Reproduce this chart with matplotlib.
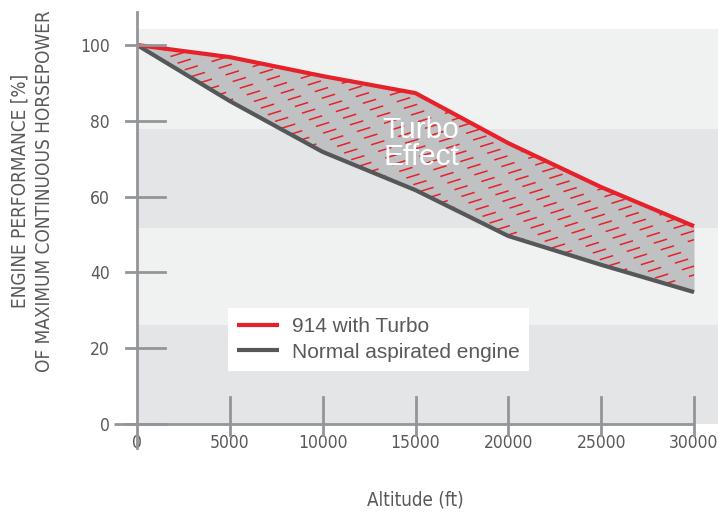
import numpy as np
import matplotlib
matplotlib.use("Agg")
import matplotlib.pyplot as plt

plt.rcParams['lines.scale_dashes'] = False

# Daten
altitude = [0, 5000, 10000, 15000, 20000, 25000, 30000]
turbo = [100, 96.8, 91.8, 87.3, 74.1, 62.5, 52.2]
normal = [100, 85.2, 71.8, 61.7, 49.6, 42.0, 34.8]
x_ticks = [0, 5000, 10000, 15000, 20000, 25000, 30000]
y_ticks = [0, 20, 40, 60, 80, 100]
bands = [0, 26.1, 51.7, 77.8, 104.2]

ROT = '#e8202a'
DUNKEL = '#555759'
FUELL = '#c0c1c3'
HELL = '#f0f1f1'
MITTEL = '#e4e5e6'
ACHSE = '#939598'
TEXT = '#58595b'

arial = 'Liberation Sans'
schmal = dict(family='DejaVu Sans', stretch='condensed')

W, H = 718, 515
fig = plt.figure(figsize=(W / 100, H / 100), dpi=100)
ax = fig.add_axes([137 / W, 1 - 424 / H, 581 / W, 412 / H])
xmax = 30000 * 581 / 557
ymax = 412 / 3.79
ax.set_xlim(0, xmax)
ax.set_ylim(0, ymax)
for s in ax.spines.values():
    s.set_visible(False)

# Hintergrundbänder
for i in range(len(bands) - 1):
    ax.axhspan(bands[i], bands[i + 1], color=MITTEL if i % 2 == 0 else HELL, lw=0, zorder=0)

# Fläche zwischen den Kurven
poly = ax.fill_between(altitude, normal, turbo, color=FUELL, lw=0, zorder=2)

# gestrichelte Schraffur, auf die Fläche beschnitten
sx = 557 / 30000
sy = 3.79
winkel = np.tan(np.radians(17))
xp = np.array([-20, 620])
for k, c in enumerate(np.arange(-250, 420, 8.8)):
    yp = c + winkel * xp
    ln, = ax.plot(xp / sx, yp / sy, color=ROT, lw=1.1, zorder=3)
    ln.set_linestyle((float((k * 5.3) % 20.3), (10.0, 10.3)))
    ln.set_clip_path(poly.get_paths()[0], ax.transData)

l1, = ax.plot(altitude, turbo, color=ROT, lw=3, zorder=5, solid_capstyle='butt',
              label='914 with Turbo')
l2, = ax.plot(altitude, normal, color=DUNKEL, lw=3, zorder=4, solid_capstyle='butt',
              label='Normal aspirated engine')

ax.text(15300, 74, 'Turbo\nEffect', color='white', fontsize=21.5, family=arial,
        ha='center', va='center', linespacing=0.98, zorder=6)

# Achsen
ax.axvline(0, ymin=-24 / 412, ymax=1, color=ACHSE, lw=2, clip_on=False, zorder=6)
ax.hlines(0, -23 / sx, 30000, color=ACHSE, lw=2, zorder=6, clip_on=False)
trans_y = ax.get_yaxis_transform()
for t in y_ticks:
    ax.plot([-11 / 581, 28 / 581], [t, t], color=ACHSE, lw=2, transform=trans_y,
            clip_on=False, zorder=6)
for t in x_ticks[1:]:
    ax.plot([t, t], [27 / sy, -11 / sy], color=ACHSE, lw=2, clip_on=False, zorder=6)

ax.set_xticks(x_ticks)
ax.set_xticklabels([str(t) for t in x_ticks])
ax.set_yticks(y_ticks)
ax.tick_params(length=0, labelsize=12.5, labelcolor=TEXT)
ax.tick_params(axis='y', pad=19.5)
ax.tick_params(axis='x', pad=7)
for lab in ax.get_xticklabels() + ax.get_yticklabels():
    lab.set_family(schmal['family'])
    lab.set_stretch(schmal['stretch'])

fig.text(415 / W, 1 - 500 / H, 'Altitude (ft)', ha='center', va='center',
         fontsize=13.5, color=TEXT, **schmal)
fig.text(32 / W, 1 - 191 / H, 'ENGINE PERFORMANCE [%]\nOF MAXIMUM CONTINUOUS HORSEPOWER',
         rotation=90, ha='center', va='center', fontsize=13.6, color=TEXT,
         linespacing=1.35, **schmal)

leg = ax.legend(handles=[l1, l2], loc='upper left',
                bbox_to_anchor=(228 / W, 1 - 308 / H), bbox_transform=fig.transFigure,
                frameon=True, fancybox=False, framealpha=1, edgecolor='none',
                facecolor='white', prop={'family': arial, 'size': 15},
                handlelength=2.0, handletextpad=0.6, labelspacing=0.3,
                borderpad=0.45, borderaxespad=0)
for t in leg.get_texts():
    t.set_color(TEXT)
leg.set_zorder(10)

fig.savefig('out.png', dpi=100)
